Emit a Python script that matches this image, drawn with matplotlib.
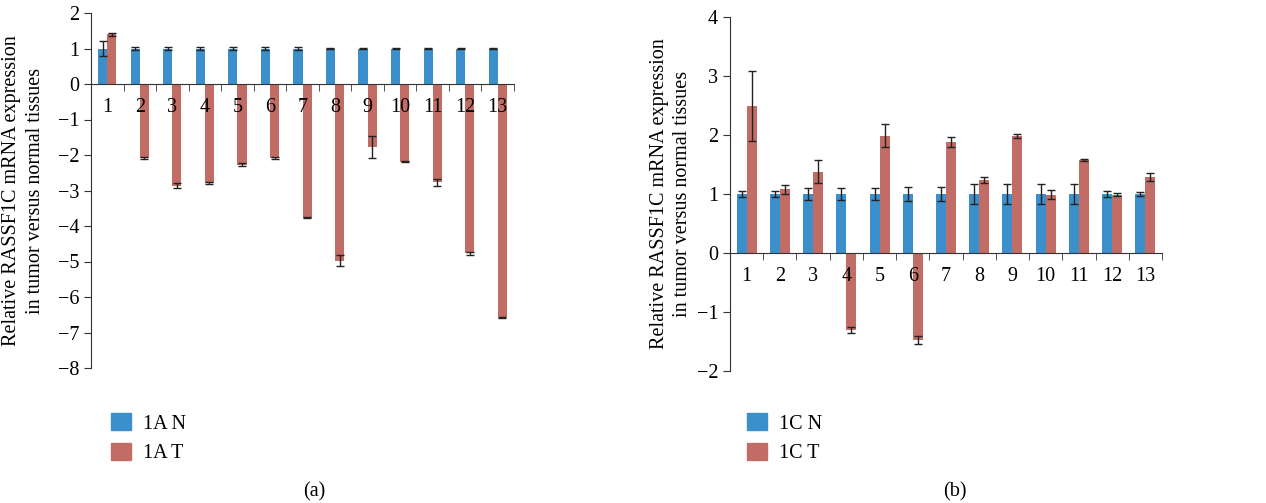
"""
RASSF1C mRNA expression, tumor vs normal: panels (a) 1A and (b) 1C
"""

import numpy as np
import matplotlib
matplotlib.use("Agg")
import matplotlib.pyplot as plt
from matplotlib.patches import Patch

plt.rcParams['font.family'] = ['Liberation Serif', 'DejaVu Serif']

samples = [str(i) for i in range(1, 14)]

# panel (a) - 1A
a_normal = [1, 1, 1, 1, 1, 1, 1, 1, 1, 1, 1, 1, 1]
a_normal_err = [0.2, 0.05, 0.05, 0.05, 0.05, 0.05, 0.05, 0.02, 0.02, 0.02, 0.02, 0.02, 0.02]
a_tumor = [1.4, -2.08, -2.86, -2.78, -2.27, -2.08, -3.77, -4.98, -1.78, -2.19, -2.77, -4.77, -6.57]
a_tumor_err = [0.04, 0.03, 0.06, 0.03, 0.04, 0.03, 0.01, 0.15, 0.31, 0.01, 0.09, 0.05, 0.01]

# panel (b) - 1C
c_normal = [1, 1, 1, 1, 1, 1, 1, 1, 1, 1, 1, 1, 1]
c_normal_err = [0.05, 0.05, 0.1, 0.1, 0.1, 0.12, 0.12, 0.17, 0.17, 0.17, 0.17, 0.05, 0.03]
c_tumor = [2.49, 1.08, 1.38, -1.3, 1.99, -1.48, 1.88, 1.24, 1.98, 0.99, 1.58, 0.99, 1.29]
c_tumor_err = [0.6, 0.08, 0.2, 0.05, 0.2, 0.07, 0.08, 0.05, 0.03, 0.07, 0.02, 0.02, 0.07]

blue = '#3b8fcb'
red = '#c16c65'
fs = 14.5

W, H = 1266, 503
fig = plt.figure(figsize=(W / 100, H / 100), dpi=100)

ax1 = fig.add_axes([91 / W, 1 - 368 / H, 423 / W, 355 / H])
ax2 = fig.add_axes([730 / W, 1 - 371 / H, 432 / W, 354 / H])


def draw_panel(ax, normal, normal_err, tumor, tumor_err, ylim, yticks, width):
    x = np.arange(len(samples))
    ax.bar(x - width / 2, normal, width, color=blue, zorder=1)
    ax.bar(x + width / 2, tumor, width, color=red, zorder=1)
    ax.errorbar(x - width / 2, normal, yerr=normal_err, fmt='none', ecolor='#222222',
                elinewidth=1, capsize=2.8, capthick=1, zorder=3)
    ax.errorbar(x + width / 2, tumor, yerr=tumor_err, fmt='none', ecolor='#222222',
                elinewidth=1, capsize=2.8, capthick=1, zorder=3)
    ax.set_axisbelow(False)

    ax.set_xlim(-0.5, len(samples) - 0.5)
    ax.set_ylim(*ylim)
    ax.set_yticks(yticks)
    ax.spines['top'].set_visible(False)
    ax.spines['right'].set_visible(False)
    ax.spines['bottom'].set_position(('data', 0))
    ax.spines['left'].set_color('#333333')
    ax.spines['bottom'].set_color('#333333')

    # sample numbers under the zero line, boundary ticks between groups
    ax.set_xticks(x)
    ax.set_xticklabels(samples)
    ax.set_xticks(np.arange(0.5, len(samples), 1), minor=True)
    ax.tick_params(axis='x', which='major', length=0, pad=10, labelsize=fs)
    ax.tick_params(axis='x', which='minor', length=5, direction='out', color='#333333')
    ax.tick_params(axis='y', length=5, direction='out', labelsize=fs, color='#333333')

    ax.set_ylabel('Relative RASSF1C mRNA expression\nin tumor versus normal tissues',
                  fontsize=fs, linespacing=1.32)


draw_panel(ax1, a_normal, a_normal_err, a_tumor, a_tumor_err, (-8, 2), range(-8, 3), 0.28)
draw_panel(ax2, c_normal, c_normal_err, c_tumor, c_tumor_err, (-2, 4), range(-2, 5), 0.3)
ax1.yaxis.set_label_coords(-0.109, 0.5)
ax2.yaxis.set_label_coords(-0.088, 0.5)

# legends below each panel
for labels, x0 in [(['1A N', '1A T'], 111), (['1C N', '1C T'], 747)]:
    handles = [Patch(color=blue, label=labels[0]), Patch(color=red, label=labels[1])]
    fig.legend(handles=handles, loc='upper left', bbox_to_anchor=(x0 / W, 1 - 413 / H),
               frameon=False, fontsize=fs, handlelength=1.0, handleheight=0.95,
               handletextpad=0.6, labelspacing=0.45, borderpad=0, borderaxespad=0)

fig.text(314 / W, 1 - 492 / H, '(a)', ha='center', va='center', fontsize=fs)
fig.text(955 / W, 1 - 492 / H, '(b)', ha='center', va='center', fontsize=fs)

fig.savefig('out.png', dpi=100)
